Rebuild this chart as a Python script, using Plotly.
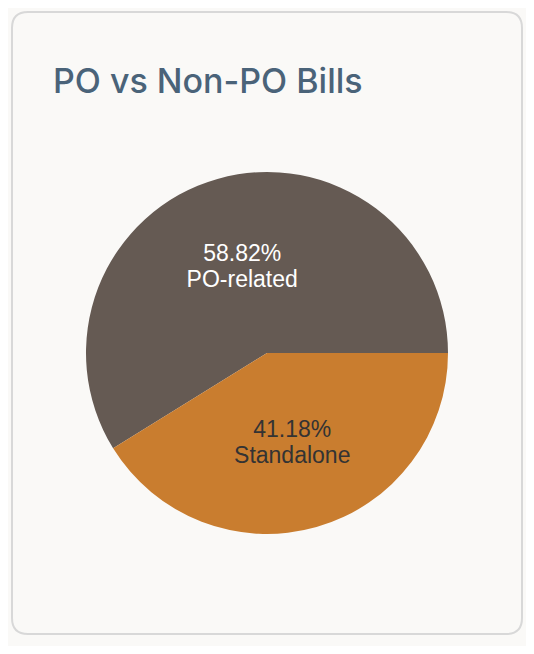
import plotly.graph_objects as go

# page body keeps its 8px margin, so the figure is a bit smaller than the window
OFF = 8
W, H = 534 - 2 * OFF, 654 - 2 * OFF

labels = ["PO-related", "Standalone"]
values = [10, 7]
colors = ["#655a53", "#c97d2f"]
text_colors = ["#ffffff", "#333333"]

title = "PO vs Non-PO Bills"


def px(x):
    return (x - OFF) / W


def py(y):
    return 1 - (y - OFF) / H


# card outline (rounded rect), screen pixels -> paper
l, t, r, b, rad = 12, 12, 522, 634, 16
card = (
    f"M {px(l + rad)},{py(t)} L {px(r - rad)},{py(t)} "
    f"Q {px(r)},{py(t)} {px(r)},{py(t + rad)} "
    f"L {px(r)},{py(b - rad)} "
    f"Q {px(r)},{py(b)} {px(r - rad)},{py(b)} "
    f"L {px(l + rad)},{py(b)} "
    f"Q {px(l)},{py(b)} {px(l)},{py(b - rad)} "
    f"L {px(l)},{py(t + rad)} "
    f"Q {px(l)},{py(t)} {px(l + rad)},{py(t)} Z"
)

cx, cy, R = 267, 353, 181

# first slice ends at 3 o'clock
rot = 90 - 360 * values[0] / sum(values)

# base size sets the (tighter) line spacing, span sets the glyph size
span = "<span style='font-size:23px'>{}</span>"
tmpl = span.format("%{percent:.2%}") + "<br>" + span.format("%{label}")

fig = go.Figure(go.Pie(
    labels=labels,
    values=values,
    sort=False,
    direction="clockwise",
    rotation=rot,
    marker=dict(colors=colors, line=dict(width=0)),
    texttemplate=tmpl,
    textposition="inside",
    insidetextfont=dict(family="Liberation Sans, Arial, sans-serif", size=20, color=text_colors),
    hoverinfo="label+percent",
    showlegend=False,
    domain=dict(x=[px(cx - R), px(cx + R)], y=[py(cy + R), py(cy - R)]),
))

fig.update_layout(
    width=W,
    height=H,
    margin=dict(l=0, r=0, t=0, b=0),
    paper_bgcolor="#faf9f7",
    plot_bgcolor="#faf9f7",
    shapes=[dict(type="path", xref="paper", yref="paper", path=card,
                 line=dict(color="#d8d8d8", width=2), layer="below")],
    annotations=[dict(text=title, xref="paper", yref="paper", x=px(51), y=py(81),
                      xanchor="left", yanchor="middle", showarrow=False,
                      font=dict(family="Inter, sans-serif", size=34, weight=500, color="#4a6379"))],
)

fig.write_html("out.html")
